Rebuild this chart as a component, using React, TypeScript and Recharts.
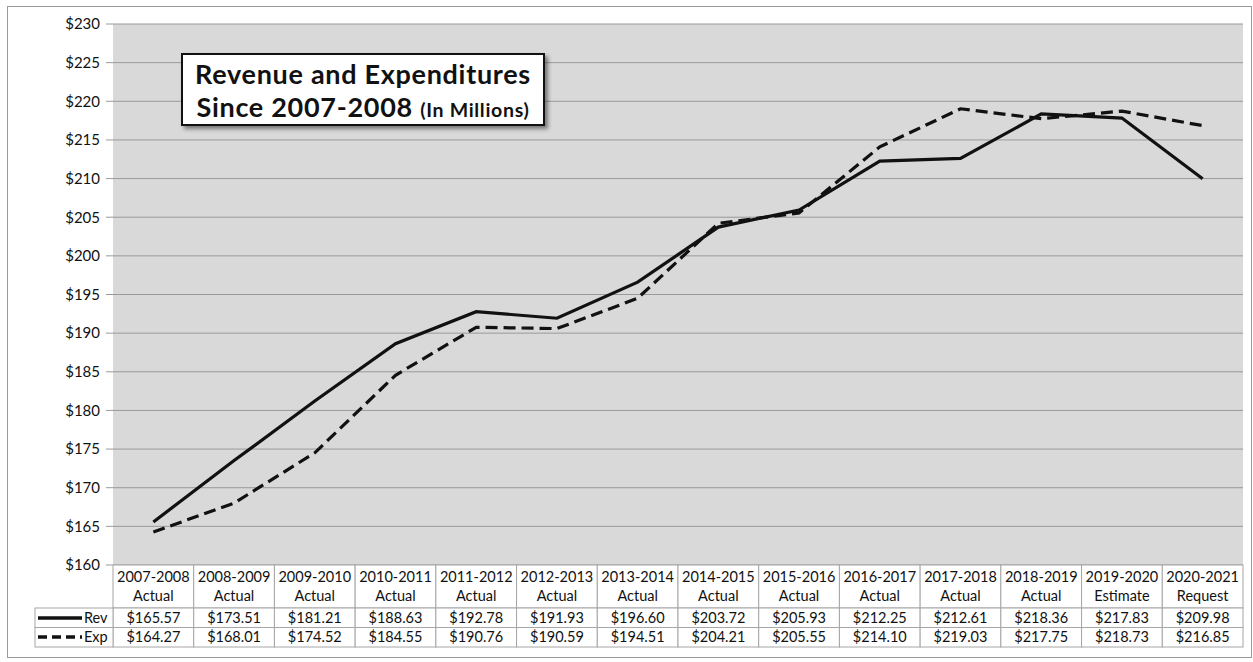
import React from 'react'
import { LineChart, Line, XAxis, YAxis, CartesianGrid } from 'recharts'

const years = [
  '2007-2008', '2008-2009', '2009-2010', '2010-2011', '2011-2012', '2012-2013', '2013-2014',
  '2014-2015', '2015-2016', '2016-2017', '2017-2018', '2018-2019', '2019-2020', '2020-2021',
]
const kinds = [
  'Actual', 'Actual', 'Actual', 'Actual', 'Actual', 'Actual', 'Actual',
  'Actual', 'Actual', 'Actual', 'Actual', 'Actual', 'Estimate', 'Request',
]
const revenue = [165.57, 173.51, 181.21, 188.63, 192.78, 191.93, 196.6, 203.72, 205.93, 212.25, 212.61, 218.36, 217.83, 209.98]
const expenditures = [164.27, 168.01, 174.52, 184.55, 190.76, 190.59, 194.51, 204.21, 205.55, 214.1, 219.03, 217.75, 218.73, 216.85]
const yTicks = [160, 165, 170, 175, 180, 185, 190, 195, 200, 205, 210, 215, 220, 225, 230]

const data = years.map((y, i) => ({ year: y, kind: kinds[i], rev: revenue[i], exp: expenditures[i] }))

const W = 1253
const H = 662
const PLOT_L = 113
const PLOT_R = 1243
const CELL_W = (PLOT_R - PLOT_L) / years.length
const FONT = 'Lato, "Open Sans", sans-serif'
const BORDER = '#a6a6a6'

const money = (v: number) => `$${v.toFixed(2)}`

function TableTick(props: any) {
  const { x, y, index } = props
  const d = data[index]
  const left = x - CELL_W / 2
  const txt = { fontSize: 14.5, fill: '#111', fontFamily: FONT, textAnchor: 'middle' as const }
  return (
    <g>
      <rect x={left} y={y} width={CELL_W} height={43} fill="#fff" stroke={BORDER} />
      <rect x={left} y={y + 43} width={CELL_W} height={19.5} fill="#fff" stroke={BORDER} />
      <rect x={left} y={y + 62.5} width={CELL_W} height={19.5} fill="#fff" stroke={BORDER} />
      <text x={x} y={y + 17} {...txt}>{d.year}</text>
      <text x={x} y={y + 36} {...txt}>{d.kind}</text>
      <text x={x} y={y + 58} {...txt}>{money(d.rev)}</text>
      <text x={x} y={y + 77} {...txt}>{money(d.exp)}</text>
      {index === 0 && (
        <g>
          <rect x={35} y={y + 43} width={left - 35} height={19.5} fill="#fff" stroke={BORDER} />
          <rect x={35} y={y + 62.5} width={left - 35} height={19.5} fill="#fff" stroke={BORDER} />
          <line x1={38} x2={82} y1={y + 53} y2={y + 53} stroke="#111" strokeWidth={3.5} />
          <line x1={38} x2={82} y1={y + 72} y2={y + 72} stroke="#111" strokeWidth={3.5} strokeDasharray="9 5" />
          <text x={84} y={y + 58} fontSize={14.5} fill="#111" fontFamily={FONT}>Rev</text>
          <text x={84} y={y + 77} fontSize={14.5} fill="#111" fontFamily={FONT}>Exp</text>
        </g>
      )}
    </g>
  )
}

export default function App() {
  return (
    <div style={{ position: 'absolute', left: 0, top: 0, width: W, height: H, background: '#fff' }}>
      <div style={{ position: 'absolute', left: 7, top: 6, width: 1245, height: 652, border: '1px solid #999', boxSizing: 'border-box' }} />
      <LineChart width={W} height={H} data={data} margin={{ top: 24, right: W - PLOT_R, bottom: 15, left: 0 }}>
        <CartesianGrid vertical={false} fill="#d9d9d9" stroke="#9a9a9a" />
        <XAxis
          dataKey="year"
          height={82}
          interval={0}
          tickSize={0}
          tickMargin={0}
          axisLine={false}
          tickLine={false}
          padding={{ left: CELL_W / 2, right: CELL_W / 2 }}
          tick={(p: any) => <TableTick {...p} />}
        />
        <YAxis
          width={PLOT_L}
          domain={[160, 230]}
          ticks={yTicks}
          interval={0}
          tickFormatter={(v: number) => `$${v}`}
          axisLine={false}
          tickLine={{ stroke: '#9a9a9a' }}
          tickSize={7}
          tickMargin={6}
          tick={{ fontSize: 15, fill: '#111', fontFamily: FONT }}
        />
        <Line type="linear" dataKey="exp" stroke="#111" strokeWidth={3.2} strokeDasharray="12 6" dot={false} isAnimationActive={false} />
        <Line type="linear" dataKey="rev" stroke="#111" strokeWidth={3.2} dot={false} isAnimationActive={false} />
      </LineChart>
      <div
        style={{
          position: 'absolute', left: 181, top: 53, width: 364, height: 73, boxSizing: 'border-box',
          border: '2px solid #111', background: '#fff', boxShadow: '3px 3px 4px rgba(0,0,0,0.45)',
          fontFamily: FONT, fontWeight: 700, color: '#111', textAlign: 'center',
          lineHeight: '33px', paddingTop: 2, whiteSpace: 'nowrap', letterSpacing: 0.7,
        }}
      >
        <div style={{ fontSize: 27 }}>Revenue and Expenditures</div>
        <div style={{ fontSize: 27 }}>
          Since 2007-2008 <span style={{ fontSize: 19.5 }}>(In Millions)</span>
        </div>
      </div>
    </div>
  )
}
